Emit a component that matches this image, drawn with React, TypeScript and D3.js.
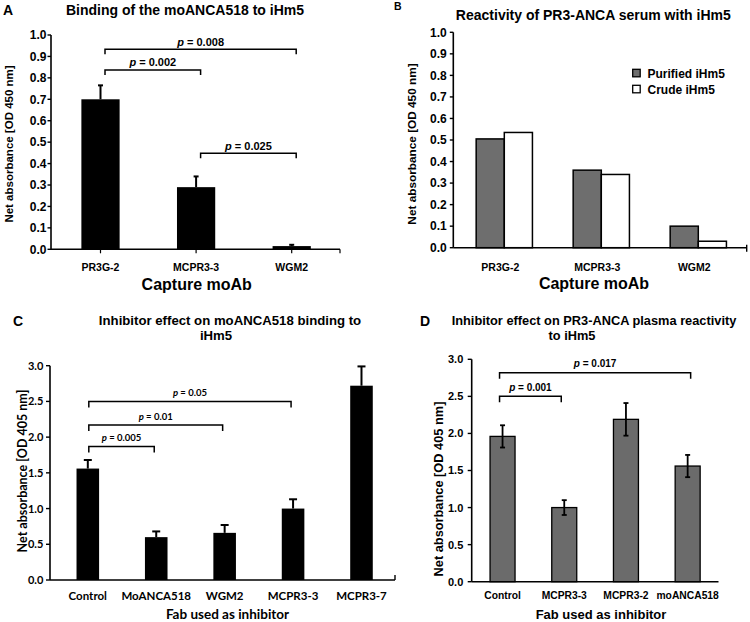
import React from "react";
import * as d3 from "d3";

// ---------- Panel A ----------
const catsA = ["PR3G-2", "MCPR3-3", "WGM2"];
const valsA = [0.7, 0.29, 0.015];
const errA = [0.065, 0.05, 0.006];
const ticksA = [0, 0.1, 0.2, 0.3, 0.4, 0.5, 0.6, 0.7, 0.8, 0.9, 1.0];
const bracketsA = [
  { from: "PR3G-2", to: "WGM2", level: 0.933, label: "0.008" },
  { from: "PR3G-2", to: "MCPR3-3", level: 0.837, label: "0.002" },
  { from: "MCPR3-3", to: "WGM2", level: 0.448, label: "0.025" },
];

// ---------- Panel B ----------
const catsB = ["PR3G-2", "MCPR3-3", "WGM2"];
const seriesB = ["Purified iHm5", "Crude iHm5"];
const purifiedB = [0.505, 0.36, 0.1];
const crudeB = [0.535, 0.34, 0.03];
const ticksB = [0, 0.1, 0.2, 0.3, 0.4, 0.5, 0.6, 0.7, 0.8, 0.9, 1.0];

// ---------- Panel C ----------
const catsC = ["Control", "MoANCA518", "WGM2", "MCPR3-3", "MCPR3-7"];
const valsC = [1.56, 0.6, 0.66, 1.0, 2.72];
const errC = [0.12, 0.08, 0.11, 0.13, 0.27];
const ticksC = [0, 0.5, 1.0, 1.5, 2.0, 2.5, 3.0];
const bracketsC = [
  { from: "Control", to: "MCPR3-3", level: 2.5, label: "0.05" },
  { from: "Control", to: "WGM2", level: 2.17, label: "0.01" },
  { from: "Control", to: "MoANCA518", level: 1.87, label: "0.005" },
];

// ---------- Panel D ----------
const catsD = ["Control", "MCPR3-3", "MCPR3-2", "moANCA518"];
const valsD = [1.96, 1.0, 2.19, 1.56];
const errD = [0.15, 0.1, 0.22, 0.15];
const ticksD = [0, 0.5, 1.0, 1.5, 2.0, 2.5, 3.0];
const bracketsD = [
  { from: "Control", to: "moANCA518", level: 2.82, label: "0.017" },
  { from: "Control", to: "MCPR3-3", level: 2.5, label: "0.001" },
];

const ARIAL = "'Liberation Sans', Arial, Helvetica, sans-serif";
const CAL = "Lato, 'Liberation Sans', sans-serif";
const fmt1 = d3.format(".1f");

function YAxis({ scale, ticks, x, font, size, labelEnd, tickLen }) {
  const [d0, d1] = scale.domain();
  return (
    <g>
      <line x1={x} x2={x} y1={scale(d0)} y2={scale(d1)} stroke="#000" strokeWidth={1.6} />
      {ticks.map((t) => (
        <g key={t}>
          <line x1={x - tickLen} x2={x} y1={scale(t)} y2={scale(t)} stroke="#000" strokeWidth={1.4} />
          <text
            x={labelEnd}
            y={scale(t)}
            dy="0.36em"
            textAnchor="end"
            fontFamily={font}
            fontSize={size}
            fontWeight="bold"
          >
            {fmt1(t)}
          </text>
        </g>
      ))}
    </g>
  );
}

function Bracket({ x1, x2, y, drop, label, font, size, gap }) {
  return (
    <g>
      <path
        d={`M${x1},${y + drop}V${y}H${x2}V${y + drop}`}
        fill="none"
        stroke="#000"
        strokeWidth={1.5}
      />
      <text
        x={(x1 + x2) / 2}
        y={y - gap}
        textAnchor="middle"
        fontFamily={font}
        fontSize={size}
        fontWeight="bold"
      >
        <tspan fontStyle="italic">p</tspan> = {label}
      </text>
    </g>
  );
}

function PanelA() {
  const x = d3.scaleBand().domain(catsA).range([52.7, 339.5]).paddingInner(0.6).paddingOuter(0.3);
  const y = d3.scaleLinear().domain([0, 1]).range([249.3, 35]);
  const cx = (c) => x(c) + x.bandwidth() / 2;
  return (
    <g>
      <text x={3} y={15} fontFamily={ARIAL} fontSize={14} fontWeight="bold">A</text>
      <text x={185} y={15} textAnchor="middle" fontFamily={ARIAL} fontSize={14} fontWeight="bold">
        Binding of the moANCA518 to iHm5
      </text>
      {catsA.map((c, i) => (
        <g key={c}>
          <rect x={x(c)} y={y(valsA[i])} width={x.bandwidth()} height={y(0) - y(valsA[i])} fill="#000" />
          <line x1={cx(c)} x2={cx(c)} y1={y(valsA[i])} y2={y(valsA[i] + errA[i])} stroke="#000" strokeWidth={2} />
          <line x1={cx(c) - 2.5} x2={cx(c) + 2.5} y1={y(valsA[i] + errA[i])} y2={y(valsA[i] + errA[i])} stroke="#000" strokeWidth={2} />
        </g>
      ))}
      <YAxis scale={y} ticks={ticksA} x={51} font={ARIAL} size={12} labelEnd={46.5} tickLen={3.5} />
      <line x1={51} x2={340} y1={y(0)} y2={y(0)} stroke="#000" strokeWidth={1.6} />
      {catsA.map((c) => (
        <line key={c} x1={cx(c)} x2={cx(c)} y1={y(0)} y2={y(0) + 4} stroke="#000" strokeWidth={1.2} />
      ))}
      <line x1={340} x2={340} y1={y(0)} y2={y(0) + 4} stroke="#000" strokeWidth={1.2} />
      {catsA.map((c) => (
        <text key={c} x={cx(c)} y={270.5} textAnchor="middle" fontFamily={ARIAL} fontSize={10.5} fontWeight="bold">
          {c}
        </text>
      ))}
      <text x={196.7} y={289.5} textAnchor="middle" fontFamily={ARIAL} fontSize={16} fontWeight="bold">
        Capture moAb
      </text>
      <text transform="translate(9,144) rotate(-90)" dy="0.36em" textAnchor="middle" fontFamily={ARIAL} fontSize={11.5} fontWeight="bold">
        Net absorbance [OD 450 nm]
      </text>
      {bracketsA.map((b) => (
        <Bracket key={b.label} x1={cx(b.from) + 4.5} x2={cx(b.to) + 4.5} y={y(b.level)} drop={5} label={b.label} font={ARIAL} size={11} gap={3.5} />
      ))}
    </g>
  );
}

function PanelB() {
  const x = d3.scaleBand().domain(catsB).range([455.8, 746.8]).paddingInner(0.42).paddingOuter(0.21);
  const xs = d3.scaleBand().domain(seriesB).range([0, x.bandwidth()]);
  const y = d3.scaleLinear().domain([0, 1]).range([247.7, 32.3]);
  const fills = ["#6e6e6e", "#ffffff"];
  const series = [purifiedB, crudeB];
  const cx = (c) => x(c) + x.bandwidth() / 2;
  return (
    <g>
      <text x={394} y={9.5} fontFamily={ARIAL} fontSize={10.5} fontWeight="bold">B</text>
      <text x={593.3} y={20} textAnchor="middle" fontFamily={ARIAL} fontSize={14} fontWeight="bold">
        Reactivity of PR3-ANCA serum with iHm5
      </text>
      {catsB.map((c, i) => (
        <g key={c}>
          {seriesB.map((s, j) => (
            <rect
              key={s}
              x={x(c) + xs(s)}
              y={y(series[j][i])}
              width={xs.bandwidth()}
              height={y(0) - y(series[j][i])}
              fill={fills[j]}
              stroke="#000"
              strokeWidth={1.5}
            />
          ))}
        </g>
      ))}
      <YAxis scale={y} ticks={ticksB} x={453.3} font={ARIAL} size={12} labelEnd={446.7} tickLen={3.5} />
      <line x1={453.3} x2={746.7} y1={y(0)} y2={y(0)} stroke="#000" strokeWidth={1.6} />
      <line x1={746.7} x2={746.7} y1={y(0) - 3} y2={y(0) + 4} stroke="#000" strokeWidth={1.4} />
      {catsB.map((c) => (
        <text key={c} x={cx(c) - 4} y={270.5} textAnchor="middle" fontFamily={ARIAL} fontSize={10.5} fontWeight="bold">
          {c}
        </text>
      ))}
      <text x={594} y={288.5} textAnchor="middle" fontFamily={ARIAL} fontSize={16} fontWeight="bold">
        Capture moAb
      </text>
      <text transform="translate(411.7,144) rotate(-90)" dy="0.36em" textAnchor="middle" fontFamily={ARIAL} fontSize={11.8} fontWeight="bold">
        Net absorbance [OD 450 nm]
      </text>
      {seriesB.map((s, j) => (
        <g key={s}>
          <rect x={632.7} y={69.3 + j * 16} width={7.5} height={7.5} fill={fills[j]} stroke="#000" strokeWidth={1.3} />
          <text x={647.5} y={77.5 + j * 16} fontFamily={ARIAL} fontSize={12} fontWeight="bold">
            {s}
          </text>
        </g>
      ))}
    </g>
  );
}

function PanelC() {
  const x = d3.scaleBand().domain(catsC).range([53.6, 395.7]).paddingInner(0.67).paddingOuter(0.335);
  const y = d3.scaleLinear().domain([0, 3]).range([580, 365.7]);
  const cx = (c) => x(c) + x.bandwidth() / 2;
  return (
    <g>
      <text x={13} y={325.5} fontFamily={ARIAL} fontSize={14} fontWeight="bold">C</text>
      <text x={230} y={325} textAnchor="middle" fontFamily={ARIAL} fontSize={13.2} fontWeight="bold">
        Inhibitor effect on moANCA518 binding to
      </text>
      <text x={216} y={340} textAnchor="middle" fontFamily={ARIAL} fontSize={13.2} fontWeight="bold">
        iHm5
      </text>
      {catsC.map((c, i) => (
        <g key={c}>
          <rect x={x(c)} y={y(valsC[i])} width={x.bandwidth()} height={y(0) - y(valsC[i])} fill="#000" />
          <line x1={cx(c)} x2={cx(c)} y1={y(valsC[i])} y2={y(valsC[i] + errC[i])} stroke="#000" strokeWidth={2} />
          <line x1={cx(c) - 4} x2={cx(c) + 4} y1={y(valsC[i] + errC[i])} y2={y(valsC[i] + errC[i])} stroke="#000" strokeWidth={2} />
        </g>
      ))}
      <YAxis scale={y} ticks={ticksC} x={50} font={CAL} size={11} labelEnd={43.3} tickLen={4} />
      <line x1={50} x2={395} y1={y(0)} y2={y(0)} stroke="#000" strokeWidth={1.6} />
      {catsC.map((c) => (
        <line key={c} x1={cx(c)} x2={cx(c)} y1={y(0)} y2={y(0) - 4} stroke="#000" strokeWidth={1.2} />
      ))}
      <line x1={395} x2={395} y1={y(0)} y2={y(0) - 5} stroke="#000" strokeWidth={1.4} />
      {catsC.map((c) => (
        <text key={c} x={cx(c)} y={600} textAnchor="middle" fontFamily={CAL} fontSize={11.5} fontWeight="bold">
          {c}
        </text>
      ))}
      <text x={227.5} y={619} textAnchor="middle" fontFamily={CAL} fontSize={13.5} fontWeight="bold">
        Fab used as inhibitor
      </text>
      <text transform="translate(22,471) rotate(-90)" dy="0.36em" textAnchor="middle" fontFamily={CAL} fontSize={12.5} fontWeight="bold">
        Net absorbance [OD 405 nm]
      </text>
      {bracketsC.map((b) => (
        <Bracket key={b.label} x1={cx(b.from) + 1} x2={cx(b.to) - 2} y={y(b.level)} drop={6} label={b.label} font={CAL} size={9.5} gap={5} />
      ))}
    </g>
  );
}

function PanelD() {
  const x = d3.scaleBand().domain(catsD).range([471.7, 718.5]).paddingInner(0.595).paddingOuter(0.2975);
  const y = d3.scaleLinear().domain([0, 3]).range([581.7, 359.3]);
  const cx = (c) => x(c) + x.bandwidth() / 2;
  return (
    <g>
      <text x={420} y={326} fontFamily={ARIAL} fontSize={14} fontWeight="bold">D</text>
      <text x={594} y={325} textAnchor="middle" fontFamily={ARIAL} fontSize={12.8} fontWeight="bold">
        Inhibitor effect on PR3-ANCA plasma reactivity
      </text>
      <text x={572} y={339.5} textAnchor="middle" fontFamily={ARIAL} fontSize={12.8} fontWeight="bold">
        to iHm5
      </text>
      {catsD.map((c, i) => (
        <g key={c}>
          <rect x={x(c)} y={y(valsD[i])} width={x.bandwidth()} height={y(0) - y(valsD[i])} fill="#6b6b6b" stroke="#000" strokeWidth={1.3} />
          <line x1={cx(c)} x2={cx(c)} y1={y(valsD[i] - errD[i])} y2={y(valsD[i] + errD[i])} stroke="#000" strokeWidth={1.8} />
          <line x1={cx(c) - 2.5} x2={cx(c) + 2.5} y1={y(valsD[i] + errD[i])} y2={y(valsD[i] + errD[i])} stroke="#000" strokeWidth={1.8} />
          <line x1={cx(c) - 2.5} x2={cx(c) + 2.5} y1={y(valsD[i] - errD[i])} y2={y(valsD[i] - errD[i])} stroke="#000" strokeWidth={1.8} />
        </g>
      ))}
      <YAxis scale={y} ticks={ticksD} x={471.7} font={ARIAL} size={11} labelEnd={463.3} tickLen={4} />
      <line x1={471.7} x2={718.5} y1={y(0)} y2={y(0)} stroke="#000" strokeWidth={1.6} />
      {catsD.map((c) => (
        <text key={c} x={cx(c)} y={598.5} textAnchor="middle" fontFamily={ARIAL} fontSize={10.3} fontWeight="bold">
          {c}
        </text>
      ))}
      <text x={601} y={619} textAnchor="middle" fontFamily={ARIAL} fontSize={13} fontWeight="bold">
        Fab used as inhibitor
      </text>
      <text transform="translate(438.3,489) rotate(-90)" dy="0.36em" textAnchor="middle" fontFamily={ARIAL} fontSize={12.8} fontWeight="bold">
        Net absorbance [OD 405 nm]
      </text>
      {bracketsD.map((b) => (
        <Bracket key={b.label} x1={cx(b.from) - 3} x2={cx(b.to) + (b.to === "moANCA518" ? 3 : -3)} y={y(b.level)} drop={6} label={b.label} font={ARIAL} size={10} gap={5.5} />
      ))}
    </g>
  );
}

export default function App() {
  return (
    <svg
      width={750}
      height={622}
      viewBox="0 0 750 622"
      style={{ position: "absolute", left: 0, top: 0, background: "#fff" }}
    >
      <rect width={750} height={622} fill="#fff" />
      <PanelA />
      <PanelB />
      <PanelC />
      <PanelD />
    </svg>
  );
}
